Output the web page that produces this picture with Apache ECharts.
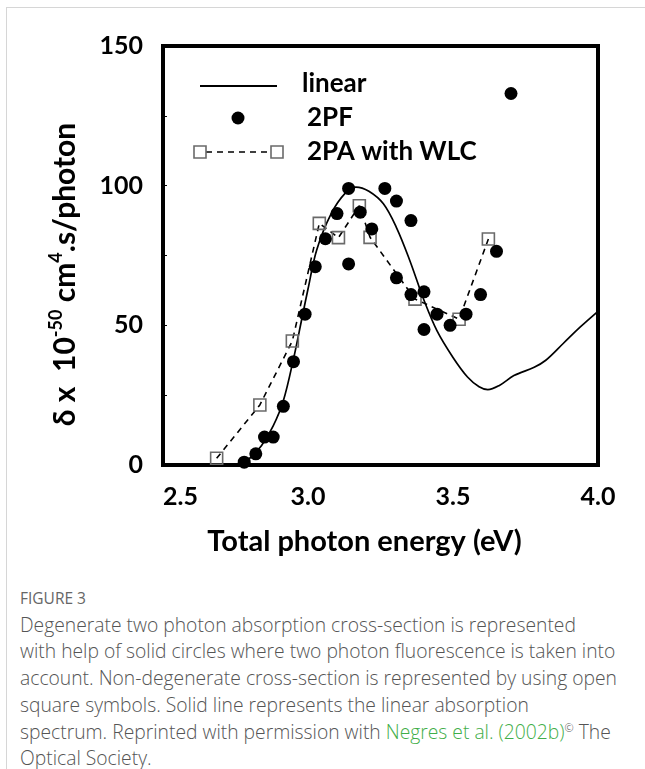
<!DOCTYPE html>
<html><head><meta charset="utf-8">
<script src="https://cdn.jsdelivr.net/npm/echarts@6/dist/echarts.min.js"></script>
<style>
html,body{margin:0;padding:0;background:#fff;width:645px;height:769px;overflow:hidden;}
#frame{position:absolute;left:6px;top:7px;width:700px;height:800px;border-top:1px solid #d6d6d6;border-left:1px solid #d6d6d6;}
#chart{position:absolute;left:0;top:0;width:645px;height:580px;}
#cap{position:absolute;left:20px;top:585px;font-family:'Open Sans','Noto Sans',sans-serif;font-weight:300;color:#555;font-size:19.3px;line-height:26.7px;white-space:nowrap;}
#cap .fig{font-size:15.5px;color:#666;font-weight:400;}
#cap .lnk{color:#3fae49;}
#cap sup{font-size:11px;line-height:0;vertical-align:7px;}
</style></head>
<body>
<div id="frame"></div>
<div id="chart"></div>
<div id="cap">
<div class="fig">FIGURE 3</div>
<div>Degenerate two photon absorption cross-section is represented</div>
<div>with help of solid circles where two photon fluorescence is taken into</div>
<div>account. Non-degenerate cross-section is represented by using open</div>
<div>square symbols. Solid line represents the linear absorption</div>
<div>spectrum. Reprinted with permission with <span class="lnk">Negres et al. (2002b)</span><sup>©</sup> The</div>
<div>Optical Society.</div>
</div>
<script>
// ---- data ----
const linearEnergy = [2.76, 2.80, 2.84, 2.88, 2.915, 2.95, 2.98, 3.00, 3.03, 3.08, 3.13, 3.165, 3.21, 3.26, 3.305, 3.35, 3.40, 3.445, 3.50, 3.55, 3.59, 3.62, 3.66, 3.71, 3.78, 3.82, 3.88, 3.94, 4.00];
const linearDelta  = [0, 2.5, 7, 14, 23, 38, 53, 63, 77, 90, 97.5, 99.5, 98, 93.5, 85, 73.5, 59, 48, 38.5, 31.5, 28, 27, 28.5, 32, 35, 37.5, 43.5, 49.5, 55];

const pfEnergy = [2.78, 2.82, 2.85, 2.88, 2.915, 2.95, 2.99, 3.025, 3.06, 3.10, 3.14, 3.14, 3.18, 3.22, 3.265, 3.305, 3.305, 3.355, 3.355, 3.40, 3.40, 3.445, 3.49, 3.545, 3.595, 3.65, 3.70];
const pfDelta  = [1, 4, 10, 10, 21, 37, 54, 71, 81, 90, 99, 72, 90.5, 84.5, 99, 94.5, 67, 87.5, 61, 62, 48.5, 54, 50, 54, 61, 76.5, 133];

const paEnergy = [2.685, 2.834, 2.946, 3.039, 3.105, 3.177, 3.214, 3.369, 3.521, 3.622];
const paDelta  = [2.4, 21.5, 44.4, 86.5, 81.4, 92.8, 81.5, 59.4, 52.2, 80.9];

const xTicks = [2.5, 3.0, 3.5, 4.0];
const yTicks = [0, 50, 100, 150];

const seriesNames = ['linear', '2PF', '2PA with WLC'];

const zip = (a, b) => a.map((v, i) => [v, b[i]]);

const chart = echarts.init(document.getElementById('chart'), null, {renderer: 'canvas'});
const F = 'Lato, "Open Sans", sans-serif';

const option = {
  animation: false,
  backgroundColor: 'transparent',
  grid: {left: 163, top: 46, width: 435, height: 419, show: true, borderColor: '#000', borderWidth: 4, backgroundColor: 'transparent'},
  xAxis: {
    type: 'value', min: xTicks[0], max: xTicks[xTicks.length - 1], interval: 0.5,
    axisLine: {show: false}, axisTick: {show: false}, splitLine: {show: false},
    axisLabel: {margin: 19, color: '#000', fontFamily: F, fontWeight: 'bold', fontSize: 25,
      alignMinLabel: 'left',
      formatter: v => xTicks.some(t => Math.abs(t - v) < 1e-9) ? v.toFixed(1) : ''},
    name: 'Total photon energy (eV)', nameLocation: 'middle', nameGap: 62,
    nameTextStyle: {color: '#000', fontFamily: F, fontWeight: 'bold', fontSize: 29, padding: [0, 32, 0, 0]}
  },
  yAxis: {
    type: 'value', min: 0, max: 150, interval: 25,
    axisLine: {show: false}, splitLine: {show: false},
    axisTick: {show: true, inside: true, length: 4, lineStyle: {color: '#000', width: 1}},
    axisLabel: {margin: 20, color: '#000', fontFamily: F, fontWeight: 'bold', fontSize: 25,
      formatter: v => yTicks.indexOf(v) >= 0 ? String(v) : ''},
    name: '{a|δ x  10}{s|-50}{a| cm}{s|4}{a|.s/photon}',
    nameLocation: 'middle', nameRotate: 90, nameGap: 80,
    nameTextStyle: {
      padding: [0, 38, 0, 0],
      rich: {
        a: {fontFamily: F, fontWeight: 'bold', fontSize: 30, color: '#000', lineHeight: 36},
        s: {fontFamily: F, fontWeight: 'bold', fontSize: 18, color: '#000', lineHeight: 20, verticalAlign: 'top'}
      }
    }
  },
  series: [
    {name: seriesNames[0], type: 'line', data: zip(linearEnergy, linearDelta), smooth: 0.35,
      showSymbol: false, lineStyle: {color: '#000', width: 1.7}, z: 2},
    {name: seriesNames[2], type: 'line', data: zip(paEnergy, paDelta), smooth: false,
      symbol: 'rect', symbolSize: 12, showSymbol: true,
      lineStyle: {color: '#000', width: 1.6, type: [6, 5]},
      itemStyle: {color: 'rgba(255,255,255,0)', borderColor: '#6a6a6a', borderWidth: 1.6}, z: 3},
    {name: seriesNames[1], type: 'scatter', data: zip(pfEnergy, pfDelta), symbol: 'circle', symbolSize: 13,
      itemStyle: {color: '#000', opacity: 1}, z: 4}
  ],
  graphic: [
    {type: 'line', shape: {x1: 200, y1: 86, x2: 277, y2: 86}, style: {stroke: '#000', lineWidth: 1.8}},
    {type: 'text', x: 302, y: 84, style: {text: seriesNames[0], fill: '#000', font: 'bold 26px ' + F, verticalAlign: 'middle'}},
    {type: 'circle', shape: {cx: 238, cy: 118, r: 6.5}, style: {fill: '#000'}},
    {type: 'text', x: 307, y: 118, style: {text: seriesNames[1], fill: '#000', font: 'bold 26px ' + F, verticalAlign: 'middle'}},
    {type: 'line', shape: {x1: 206, y1: 152, x2: 271, y2: 152}, style: {stroke: '#000', lineWidth: 1.6, lineDash: [6, 5]}},
    {type: 'rect', shape: {x: 194, y: 146, width: 12, height: 12}, style: {fill: 'none', stroke: '#6a6a6a', lineWidth: 1.6}},
    {type: 'rect', shape: {x: 271, y: 146, width: 12, height: 12}, style: {fill: 'none', stroke: '#6a6a6a', lineWidth: 1.6}},
    {type: 'text', x: 307, y: 152, style: {text: seriesNames[2], fill: '#000', font: 'bold 26px ' + F, verticalAlign: 'middle'}}
  ]
};
chart.setOption(option);
</script>
</body></html>
